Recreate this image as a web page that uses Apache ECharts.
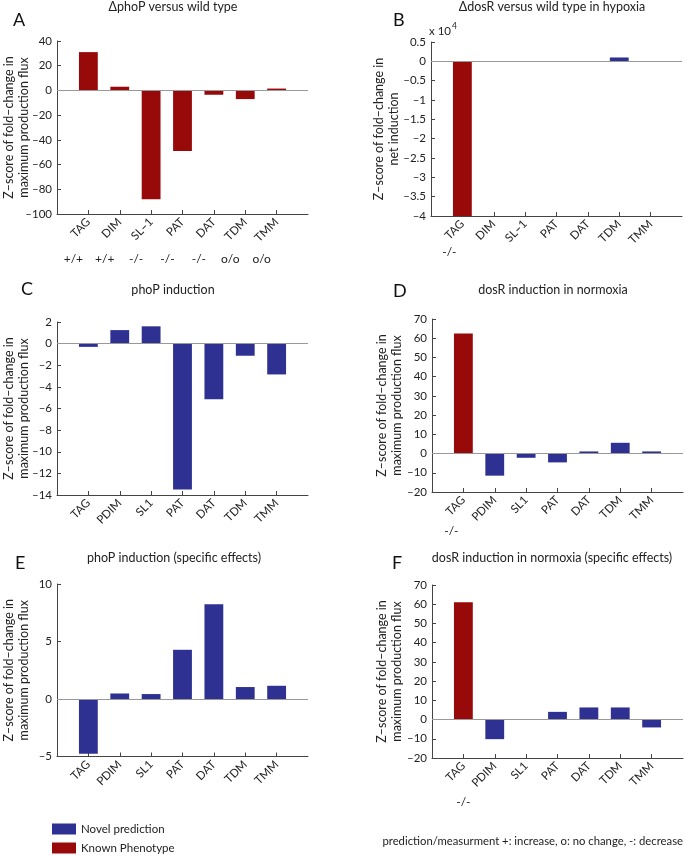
<!DOCTYPE html>
<html><head><meta charset="utf-8">
<script src="https://cdn.jsdelivr.net/npm/echarts@6.0.0/dist/echarts.min.js"></script>
<style>html,body{margin:0;padding:0;background:#fff}#c{width:685px;height:857px}</style>
</head><body><div id="c"></div>
<script>
// ---------- data ----------
const catsAB = ['TAG', 'DIM', 'SL–1', 'PAT', 'DAT', 'TDM', 'TMM'];
const catsCF = ['TAG', 'PDIM', 'SL1', 'PAT', 'DAT', 'TDM', 'TMM'];

const valsA  = [31, 3, -88, -49, -3.5, -7, 1.5];
const knownA = [1, 1, 1, 1, 1, 1, 1];
const phenoA = ['+/+', '+/+', '-/-', '-/-', '-/-', 'o/o', 'o/o'];
const ticksA = [-100, -80, -60, -40, -20, 0, 20, 40];

const valsB  = [-40000, 0, 0, 0, 0, 1000, 0];
const knownB = [1, 0, 0, 0, 0, 0, 0];
const phenoB = ['-/-', '', '', '', '', '', ''];
const ticksB = [-40000, -35000, -30000, -25000, -20000, -15000, -10000, -5000, 0, 5000];

const valsC  = [-0.3, 1.25, 1.6, -13.5, -5.15, -1.12, -2.85];
const knownC = [0, 0, 0, 0, 0, 0, 0];
const ticksC = [-14, -12, -10, -8, -6, -4, -2, 0, 2];

const valsD  = [62.5, -11.5, -2.2, -4.6, 1.1, 5.6, 1.1];
const knownD = [1, 0, 0, 0, 0, 0, 0];
const phenoD = ['-/-', '', '', '', '', '', ''];
const ticksD = [-20, -10, 0, 10, 20, 30, 40, 50, 60, 70];

const valsE  = [-4.75, 0.48, 0.43, 4.28, 8.23, 1.04, 1.15];
const knownE = [0, 0, 0, 0, 0, 0, 0];
const ticksE = [-5, 0, 5, 10];

const valsF  = [61, -10.2, 0, 4.0, 6.3, 6.3, -4.1];
const knownF = [1, 0, 0, 0, 0, 0, 0];
const phenoF = ['-/-', '', '', '', '', '', ''];
const ticksF = [-20, -10, 0, 10, 20, 30, 40, 50, 60, 70];

const legendNames = ['Novel prediction', 'Known Phenotype'];
const footnote = 'prediction/measurment +: increase, o: no change, -: decrease';

// ---------- style / layout ----------
const FONT = "Lato, 'Open Sans', sans-serif";
const BLUE = '#2e3192', RED = '#980a0a';
const AXIS = '#444', TXT = '#222';
const NAME_FLUX = 'Z–score of fold–change in\nmaximum production flux';
const NAME_NET = 'Z–score of fold–change in\nnet induction';

const panels = [
  {letter:'A', title:'ΔphoP versus wild type', cats:catsAB, vals:valsA, known:knownA, ticks:ticksA, yname:NAME_FLUX,
   grid:{left:57, top:41, height:173}, nameX:16.5, scale:1,
   pheno:phenoA, phOff:32, phPad:30, tx:173, ty:0, lx:13, ly:11},
  {letter:'B', title:'ΔdosR versus wild type in hypoxia', cats:catsAB, vals:valsB, known:knownB, ticks:ticksB, yname:NAME_NET,
   grid:{left:431, top:42, height:174}, nameX:386.5, scale:1e4,
   pheno:phenoB, phOff:23, phPad:26, tx:552, ty:0, lx:393, ly:11},
  {letter:'C', title:'phoP induction', cats:catsCF, vals:valsC, known:knownC, ticks:ticksC, yname:NAME_FLUX,
   grid:{left:57, top:322, height:173}, nameX:16.5, scale:1,
   pheno:null, tx:173, ty:283, lx:21, ly:280},
  {letter:'D', title:'dosR induction in normoxia', cats:catsCF, vals:valsD, known:knownD, ticks:ticksD, yname:NAME_FLUX,
   grid:{left:432, top:319, height:173}, nameX:389, scale:1,
   pheno:phenoD, phOff:26, phPad:24, tx:553, ty:283, lx:393, ly:282},
  {letter:'E', title:'phoP induction (specific effects)', cats:catsCF, vals:valsE, known:knownE, ticks:ticksE, yname:NAME_FLUX,
   grid:{left:57, top:584, height:172.5}, nameX:16.5, scale:1,
   pheno:null, tx:174, ty:551, lx:15, ly:554},
  {letter:'F', title:'dosR induction in normoxia (specific effects)', cats:catsCF, vals:valsF, known:knownF, ticks:ticksF, yname:NAME_FLUX,
   grid:{left:432, top:585, height:173}, nameX:389, scale:1,
   pheno:phenoF, phOff:31, phPad:0, tx:552, ty:551, lx:392, ly:554},
];

const fmtNum = (v) => String(+v.toFixed(4)).replace('-', '–');

const grids = [], xAxes = [], yAxes = [], series = [], titles = [], graphics = [];
const phenoAxes = [];

panels.forEach((p, i) => {
  grids.push({left: p.grid.left, top: p.grid.top, width: 251, height: p.grid.height,
              containLabel: false, outerBoundsMode: 'none'});
  const n = p.cats.length + 1;
  xAxes.push({
    type: 'category', gridIndex: i, data: [''].concat(p.cats, ['']), boundaryGap: false,
    position: 'bottom',
    axisLine: {show: true, onZero: false, lineStyle: {color: AXIS, width: 1}},
    axisTick: {show: true, inside: true, length: 4, lineStyle: {color: AXIS},
               interval: (idx) => idx > 0 && idx < n},
    axisLabel: {rotate: 45, interval: 0, fontSize: 11.5, color: TXT, fontFamily: FONT, margin: 6},
    splitLine: {show: false}
  });
  if (p.pheno) {
    phenoAxes.push({
      type: 'category', gridIndex: i, data: [''].concat(p.pheno, ['']), boundaryGap: false,
      position: 'bottom', offset: p.phOff,
      axisLine: {show: false}, axisTick: {show: false},
      axisLabel: {interval: 0, fontSize: 12, color: TXT, fontFamily: FONT, margin: 7,
                  padding: [0, p.phPad, 0, 0]},
      splitLine: {show: false}
    });
  }
  const t = p.ticks;
  yAxes.push({
    type: 'value', gridIndex: i, min: t[0], max: t[t.length - 1], interval: t[1] - t[0],
    axisLine: {show: true, lineStyle: {color: AXIS, width: 1}},
    axisTick: {show: true, inside: true, length: 4, lineStyle: {color: AXIS}},
    axisLabel: {fontSize: 11.5, color: TXT, fontFamily: FONT, margin: 5,
                formatter: (v) => fmtNum(v / p.scale)},
    splitLine: {show: false}
  });
  // rotated y-axis title (real text)
  graphics.push({
    type: 'text', x: p.nameX, y: p.grid.top + p.grid.height / 2, rotation: Math.PI / 2, silent: true,
    style: {text: p.yname, align: 'center', verticalAlign: 'middle', fill: TXT,
            font: "12.5px " + FONT, lineHeight: 15}
  });
  const novel = ['-'].concat(p.vals.map((v, k) => p.known[k] ? '-' : v), ['-']);
  const known = ['-'].concat(p.vals.map((v, k) => p.known[k] ? v : '-'), ['-']);
  series.push({
    type: 'bar', name: legendNames[0], xAxisIndex: i, yAxisIndex: i, data: novel,
    barWidth: '60%', barGap: '-100%',
    itemStyle: {color: BLUE},
    markLine: {silent: true, symbol: ['none', 'none'], label: {show: false},
               lineStyle: {color: '#999', width: 1, type: 'solid'}, data: [{yAxis: 0}]}
  });
  series.push({
    type: 'bar', name: legendNames[1], xAxisIndex: i, yAxisIndex: i, data: known,
    barWidth: '60%', barGap: '-100%',
    itemStyle: {color: RED}
  });
  titles.push({text: p.title, left: p.tx, top: p.ty, textAlign: 'center', padding: 0,
               textStyle: {fontSize: 12.5, fontWeight: 'normal', color: TXT, fontFamily: FONT}});
  titles.push({text: p.letter, left: p.lx, top: p.ly, padding: 0,
               textStyle: {fontSize: 18, fontWeight: 'normal', color: '#111', fontFamily: FONT}});
});

titles.push({text: '{a|x 10}{s|4}', left: 429, top: 22, padding: 0,
  textStyle: {fontWeight: 'normal', rich: {
    a: {fontSize: 11.5, fontWeight: 'normal', color: TXT, fontFamily: FONT, verticalAlign: 'bottom'},
    s: {fontSize: 8.5, fontWeight: 'normal', color: TXT, fontFamily: FONT, verticalAlign: 'top', padding: [0, 0, 6, 1]}}}});
titles.push({text: footnote, right: 2, top: 836, padding: 0,
  textStyle: {fontSize: 11.3, fontWeight: 'normal', color: TXT, fontFamily: FONT}});

const legendBase = {orient: 'vertical', left: 52, padding: 0, itemWidth: 24, itemHeight: 11,
  icon: 'rect', selectedMode: false, textStyle: {fontSize: 11.5, color: TXT, fontFamily: FONT}};

const chart = echarts.init(document.getElementById('c'), null, {renderer: 'canvas'});
chart.setOption({
  animation: false,
  backgroundColor: '#fff',
  title: titles,
  legend: [
    Object.assign({}, legendBase, {data: [legendNames[0]], top: 823}),
    Object.assign({}, legendBase, {data: [legendNames[1]], top: 842})
  ],
  grid: grids,
  xAxis: xAxes.concat(phenoAxes),
  yAxis: yAxes,
  graphic: graphics,
  series: series
});
</script></body></html>
